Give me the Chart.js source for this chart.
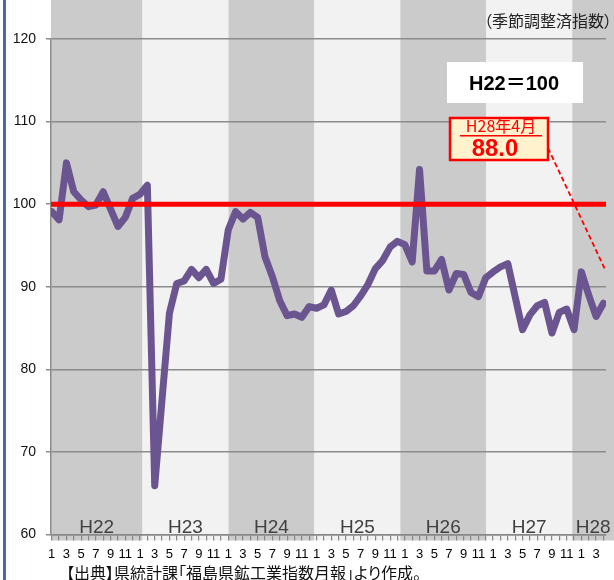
<!DOCTYPE html>
<html><head><meta charset="utf-8">
<script src="https://cdn.jsdelivr.net/npm/chart.js@4.4.0/dist/chart.umd.min.js"></script>
<style>
html,body{margin:0;padding:0;background:#fff;}
#wrap{position:relative;width:614px;height:580px;}
canvas{display:block}
.note{position:absolute;font-family:"Noto Sans CJK JP",sans-serif;font-feature-settings:"palt";white-space:nowrap;color:#111;}
#unit{right:2px;top:11px;font-size:16px;line-height:18px;color:#222;}
#src{left:66px;top:563px;font-size:16px;line-height:18px;}
</style>
</head><body>
<div id="wrap">
<canvas id="c" width="614" height="580"></canvas>
<div class="note" id="unit"></div>
<div class="note" id="src"></div>
</div>
<script>
// ---- data ----
const yearLabels = ['H22','H23','H24','H25','H26','H27','H28'];
const monthsPerYear = [12,12,12,12,12,12,4];
const monthLabels = [
 '1','','3','','5','','7','','9','','11','',
 '1','','3','','5','','7','','9','','11','',
 '1','','3','','5','','7','','9','','11','',
 '1','','3','','5','','7','','9','','11','',
 '1','','3','','5','','7','','9','','11','',
 '1','','3','','5','','7','','9','','11','',
 '1','','3',''
];
const indexValues = [
 99.1, 98.1,105.0,101.5,100.5, 99.7, 99.9,101.5, 99.4, 97.3, 98.4,100.7,
101.2,102.3, 65.9, 76.4, 86.8, 90.4, 90.7, 92.1, 91.1, 92.1, 90.4, 90.9,
 96.9, 99.1, 98.2, 99.0, 98.4, 93.6, 91.2, 88.3, 86.5, 86.7, 86.3, 87.6,
 87.4, 87.8, 89.6, 86.7, 87.0, 87.7, 88.9, 90.3, 92.2, 93.2, 94.8, 95.5,
 95.1, 93.0,104.2, 91.9, 91.9, 93.3, 89.6, 91.6, 91.5, 89.3, 88.8, 91.1,
 91.8, 92.4, 92.8, 88.8, 84.8, 86.6, 87.7, 88.1, 84.4, 86.9, 87.3, 84.8,
 91.8, 89.0, 86.4, 88.0
];
const baseValue = 100;
const yTicks = [60,70,80,90,100,110,120];
const baseNote = 'H22＝100';
const latestTitle = 'H28年4月';
const latestValue = '88.0';
const unitNote = '（季節調整済指数）';
const sourceNote = '【出典】県統計課「福島県鉱工業指数月報」より作成。';

document.getElementById('unit').textContent = unitNote;
document.getElementById('src').textContent = sourceNote;

// ---- chart ----
const JP = '"Noto Sans CJK JP", sans-serif';
const LAT = '"Liberation Sans", Arial, "Noto Sans CJK JP", sans-serif';
const yearStarts = monthsPerYear.reduce((a,n,i)=>{a.push(i===0?0:a[i-1]+monthsPerYear[i-1]);return a;},[]);
const xMin = -0.1, xMax = 75.35;

function bandEdges(chart,k){
  const {chartArea:a, scales:{xb}} = chart;
  const x0 = k===0 ? a.left : xb.getPixelForValue(yearStarts[k]);
  const x1 = k<yearLabels.length-1 ? xb.getPixelForValue(yearStarts[k+1]) : chart.width;
  return [x0,x1];
}

const decor = {
  id:'decor',
  beforeDraw(chart){
    const {ctx, scales:{y}} = chart;
    ctx.save();
    ctx.fillStyle='#ffffff'; ctx.fillRect(0,0,chart.width,chart.height);
    const bottom = y.bottom + 6;
    yearLabels.forEach((lab,k)=>{
      const [x0,x1] = bandEdges(chart,k);
      ctx.fillStyle = k%2===0 ? '#cbcbcb' : '#f2f2f2';
      ctx.fillRect(x0,0,x1-x0,bottom);
    });
    ctx.fillStyle='#4a6b9b'; ctx.fillRect(3,0,3,chart.height);
    ctx.restore();
  },
  beforeDatasetsDraw(chart){
    const {ctx, scales:{y}} = chart;
    ctx.save();
    ctx.font = '19px '+LAT; ctx.fillStyle='#404040';
    ctx.textAlign='center'; ctx.textBaseline='alphabetic';
    yearLabels.forEach((lab,k)=>{
      const [x0,x1] = bandEdges(chart,k);
      ctx.fillText(lab,(x0+x1)/2,y.bottom-2);
    });
    ctx.restore();
  },
  afterDraw(chart){
    const {ctx, scales:{x, y}} = chart;
    ctx.save();
    // base note box
    ctx.fillStyle='#ffffff'; ctx.fillRect(447,62,136,41);
    ctx.font='bold 20px '+LAT; ctx.fillStyle='#000'; ctx.textAlign='center'; ctx.textBaseline='middle';
    ctx.fillText(baseNote,514,84);
    // leader line
    const n = indexValues.length-1;
    const lx = x.getPixelForValue(n), ly = y.getPixelForValue(indexValues[n]);
    ctx.strokeStyle='#ff0000'; ctx.lineWidth=1.8; ctx.setLineDash([5,3]);
    ctx.beginPath(); ctx.moveTo(548,148); ctx.lineTo(lx+2, ly-33); ctx.stroke();
    ctx.setLineDash([]);
    // latest box
    ctx.fillStyle='#fff2cc'; ctx.fillRect(450,118,98,42);
    ctx.strokeStyle='#ff0000'; ctx.lineWidth=2.5; ctx.strokeRect(450,118,98,42);
    ctx.fillStyle='#ff0000'; ctx.font='16px '+JP;
    ctx.fillText(latestTitle,501,126);
    ctx.fillRect(460,135,82,1.5);
    ctx.font='bold 24px '+LAT;
    ctx.fillText(latestValue,495,149);
    ctx.restore();
  }
};

new Chart(document.getElementById('c'),{
  type:'line',
  data:{datasets:[
    {data:[{x:xMin,y:baseValue},{x:xMax,y:baseValue}], borderColor:'#ff0000', borderWidth:5, pointRadius:0, xAxisID:'x', yAxisID:'y'},
    {data:indexValues.map((v,i)=>({x:i,y:v})), borderColor:'#6a5590', borderWidth:7, pointRadius:0, tension:0,
     borderJoinStyle:'round', borderCapStyle:'round', xAxisID:'x', yAxisID:'y'}
  ]},
  options:{
    responsive:false, animation:false, devicePixelRatio:1,
    layout:{padding:{top:39,right:8,left:0,bottom:0}},
    plugins:{legend:{display:false}, tooltip:{enabled:false}},
    scales:{
      xb:{type:'linear', display:false, min:-0.78, max:76.72},
      x:{type:'linear', position:'bottom', min:xMin, max:xMax,
        afterFit(s){s.height=45.5;},
        afterBuildTicks(s){s.ticks=monthLabels.map((l,i)=>({value:i}));},
        ticks:{autoSkip:false, maxRotation:0, minRotation:0, padding:6, color:'#000',
          font:{size:13, family:LAT}, callback:(v,i)=>monthLabels[i]},
        grid:{drawOnChartArea:false, color:'#888', lineWidth:1.2, tickLength:6},
        border:{color:'#888', width:1.5}},
      y:{type:'linear', min:60, max:120,
        afterFit(s){s.width=51;},
        afterBuildTicks(s){s.ticks=yTicks.map(v=>({value:v}));},
        ticks:{color:'#111', padding:10, font:{size:14, family:LAT}},
        grid:{color:'#8c8c8c', lineWidth:1.5, tickLength:5},
        border:{color:'#8c8c8c', width:1.5}}
    }
  },
  plugins:[decor]
});
</script>
</body></html>
